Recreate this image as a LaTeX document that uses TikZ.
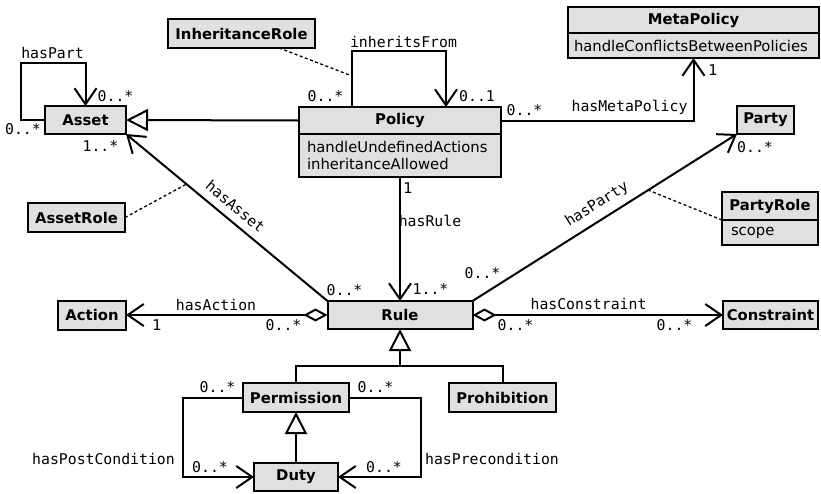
\documentclass[tikz,border=0pt]{standalone}
\usepackage{fontspec}
\setmainfont{DejaVu Sans}
\setmonofont{DejaVu Sans Mono}
\usetikzlibrary{arrows.meta,calc}
\definecolor{boxfill}{RGB}{224,224,224}
\newcommand\dsize{\fontsize{14.8}{17.8}\selectfont}
\tikzset{
  cls/.style={draw, line width=2pt, fill=boxfill, font=\dsize\bfseries, minimum height=28pt, inner sep=0pt, outer sep=0pt},
  attr/.style={draw, line width=2pt, fill=boxfill, font=\dsize, align=left, inner xsep=8pt, inner ysep=0pt, outer sep=0pt, anchor=north west},
  lbl/.style={font=\dsize\ttfamily, inner sep=0pt},
  one/.style={font=\dsize, inner sep=0pt},
  conn/.style={line width=2pt},
  assoc/.style={conn, -{Straight Barb[length=16pt,width=22pt]}},
  gen/.style={conn, -{Triangle[open, length=22pt, width=22pt]}},
  aggr/.style={conn, {Diamond[open, length=24pt, width=13pt]}-{Straight Barb[length=16pt,width=22pt]}},
  note/.style={line width=1.3pt, dash pattern=on 3pt off 2.5pt}
}
\begin{document}
\begin{tikzpicture}[x=1pt,y=-1pt]
\useasboundingbox (0,0) rectangle (821,493);
% classes
\node[cls, minimum width=81pt] (asset) at (85.5,120) {Asset};
\node[cls, minimum width=147pt, minimum height=29pt] (inhrole) at (241.5,33.5) {InheritanceRole};
\node[cls, minimum width=202pt, minimum height=27pt] (policy) at (400,120.5) {Policy};
\node[attr, text width=186pt, minimum height=43pt] (policyattr) at (policy.south west) {handleUndefinedActions\\inheritanceAllowed};
\node[cls, minimum width=251pt, minimum height=26pt] (meta) at (693.5,20) {MetaPolicy};
\node[attr, inner xsep=6pt, text width=239pt, minimum height=25pt] (metaattr) at (meta.south west) {handleConflictsBetweenPolicies};
\node[cls, minimum width=57pt] (party) at (765.5,120) {Party};
\node[cls, minimum width=97pt, minimum height=29pt] (assetrole) at (76.5,217.5) {AssetRole};
\node[cls, minimum width=96pt] (partyrole) at (770,206) {PartyRole};
\node[attr, inner xsep=9pt, text width=78pt, minimum height=25pt] (partyroleattr) at (partyrole.south west) {scope};
\node[cls, minimum width=68pt, minimum height=29pt] (action) at (92,315) {Action};
\node[cls, minimum width=145pt] (rule) at (400,315) {Rule};
\node[cls, minimum width=95pt] (constraint) at (770.5,315) {Constraint};
\node[cls, minimum width=106pt, minimum height=29pt] (permission) at (296,397.5) {Permission};
\node[cls, minimum width=107pt, minimum height=29pt] (prohibition) at (502.5,397.5) {Prohibition};
\node[cls, minimum width=84pt] (duty) at (296,477) {Duty};
% helper coordinates
\coordinate (hpcorner) at (21,63);
\coordinate (ifA) at (352,51);
\coordinate (ifB) at (446,51);
\coordinate (ifmid) at (352,76);
\coordinate (gj) at (400,366);
\coordinate (postc) at (183,477);
\coordinate (prec) at (421,477);
% hasPart
\draw[assoc] (asset.west) -| (hpcorner) -| (asset.north);
\node[lbl] (lhaspart) at (52.5,53) {hasPart};
\node[lbl] (m1) at (115.5,96) {0..*};
\node[lbl] (m2) at (23,129) {0..*};
% generalization Policy -> Asset
\draw[gen] (policy.west) -- (asset.east);
% inheritsFrom
\draw[assoc] (policy.north -| ifA) -- (ifA) -- (ifB) -- (policy.north -| ifB);
\node[lbl] (linh) at (403.5,42) {inheritsFrom};
\node[lbl] (m3) at (325.5,96) {0..*};
\node[lbl] (m4) at (477,96) {0..1};
\draw[note] (inhrole) -- (ifmid);
% hasMetaPolicy
\draw[assoc] (policy.east) -| (metaattr.south);
\node[lbl] (lmeta) at (629.5,107) {hasMetaPolicy};
\node[lbl] (m5) at (524.5,110) {0..*};
\node[one] (m6) at (713,70) {1};
% hasAsset
\draw[assoc] (rule.north west) -- coordinate[pos=0.7] (assetmid) (asset.south east);
\node[lbl, rotate=-39.7] (lasset) at (235.5,206.5) {hasAsset};
\draw[note] (assetrole.east) -- (assetmid);
\node[lbl] (m7) at (100.5,146) {1..*};
\node[lbl] (m8) at (344.5,290) {0..*};
% hasParty
\draw[assoc] (rule.north east) -- coordinate[pos=0.664] (partymid) (party.south west);
\node[lbl, rotate=32.2] (lparty) at (597,204.5) {hasParty};
\draw[note] (partyrole.south west) -- (partymid);
\node[lbl] (m9) at (755,147) {0..*};
\node[lbl] (m10) at (482.5,273) {0..*};
% hasRule
\draw[assoc] (policyattr.south) -- (rule.north);
\node[one] (m11) at (408,188) {1};
\node[lbl] (lrule) at (430,221) {hasRule};
\node[lbl] (m12) at (430.5,289) {1..*};
% hasAction
\draw[aggr] (rule.west) -- (action.east);
\node[lbl] (laction) at (216,305) {hasAction};
\node[one] (m13) at (157,325) {1};
\node[lbl] (m14) at (283.5,325) {0..*};
% hasConstraint
\draw[aggr] (rule.east) -- (constraint.west);
\node[lbl] (lcons) at (588.5,304) {hasConstraint};
\node[lbl] (m15) at (515.5,325) {0..*};
\node[lbl] (m16) at (674.5,325) {0..*};
% rule specialisations
\draw[conn] (permission.north) |- (gj) -| (prohibition.north);
\draw[gen] (gj) -- (rule.south);
\draw[gen] (duty.north) -- (permission.south);
% hasPostCondition
\draw[assoc] (permission.west) -| (postc) -- (duty.west);
\node[lbl] (lpost) at (103.5,459) {hasPostCondition};
\node[lbl] (m17) at (217.5,387) {0..*};
\node[lbl] (m18) at (210,467) {0..*};
% hasPrecondition
\draw[assoc] (permission.east) -| (prec) -- (duty.east);
\node[lbl] (lpre) at (492,459) {hasPrecondition};
\node[lbl] (m19) at (375.5,387) {0..*};
\node[lbl] (m20) at (384,467) {0..*};
\end{tikzpicture}
\end{document}
